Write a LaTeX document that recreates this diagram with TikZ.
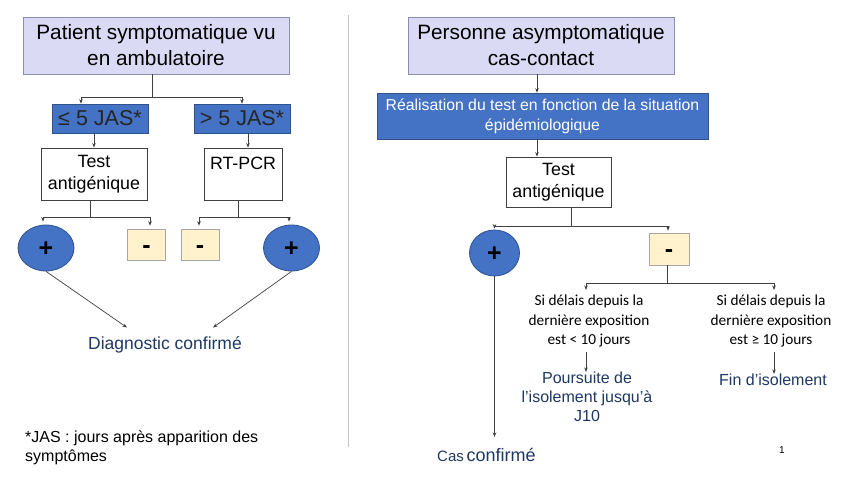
\documentclass[tikz,border=0pt]{standalone}
\usepackage{fontspec}
\setmainfont{Liberation Sans}
\newfontfamily\calib{Carlito}
\usetikzlibrary{arrows.meta,shapes.geometric}
\definecolor{lav}{HTML}{DADAF4}
\definecolor{lavb}{HTML}{8C8CB4}
\definecolor{blu}{HTML}{4472C4}
\definecolor{blub}{HTML}{2F528F}
\definecolor{crm}{HTML}{FFF2CC}
\definecolor{navy}{HTML}{1F3864}
\definecolor{ln}{HTML}{404040}
\tikzset{
 base/.style={rectangle, inner sep=0pt, align=center},
 titlebox/.style={base, draw=lavb, fill=lav, line width=0.8pt, minimum width=266pt, minimum height=57pt, font=\fontsize{20.8}{26}\selectfont},
 jasbox/.style={base, draw=blub, fill=blu, line width=0.6pt, minimum width=96pt, minimum height=29pt, font=\fontsize{21.5}{25}\selectfont, text=black!85},
 testbox/.style={base, draw=ln, fill=white, line width=0.8pt, minimum width=106pt, minimum height=52pt, font=\fontsize{17.8}{22}\selectfont},
 plus/.style={ellipse, draw=blub, fill=blu, line width=0.8pt, inner sep=0pt, minimum width=56pt, minimum height=46pt, text height=16pt, text depth=0pt, font=\bfseries\fontsize{25}{25}\selectfont},
 minus/.style={rectangle, draw=gray!70, fill=crm, line width=0.6pt, inner sep=0pt, minimum width=38pt, minimum height=31pt, text height=17pt, text depth=0pt, font=\bfseries\fontsize{25}{25}\selectfont},
 conn/.style={draw=ln, line width=0.7pt},
 arr/.style={conn, -{Stealth[length=4.5pt,width=3.5pt]}},
 navytext/.style={text=navy, inner sep=0pt, align=center},
 cal/.style={inner sep=0pt, align=center, font=\calib\fontsize{15.3}{19.5}\selectfont},
}
\begin{document}
\begin{tikzpicture}[x=1pt,y=-1pt]
\useasboundingbox (0,0) rectangle (850,478);
\fill[white] (0,0) rectangle (850,478);

% ---------- left part ----------
\node[titlebox] (t1) at (156,45.5) {Patient symptomatique vu\\en ambulatoire};
\node[jasbox] (j1) at (100,118.5) {≤ 5 JAS*};
\node[jasbox] (j2) at (242,118.5) {> 5 JAS*};
\node[testbox] (ta1) at (94,174) {Test\\antigénique};
\node[testbox, minimum width=78pt] (rt) at (243,174) {RT-PCR\\\mbox{}};
\node[plus] (p1) at (46,248) {+};
\node[minus] (m1) at (146.5,244.5) {-};
\node[minus] (m2) at (200,244.5) {-};
\node[plus] (p2) at (291.5,248) {+};
\node[navytext, font=\fontsize{17.5}{21}\selectfont] (dc) at (165,345) {Diagnostic confirmé};
\node[anchor=west, align=left, inner sep=0pt, font=\fontsize{16}{19}\selectfont] (fn) at (25,447.5) {*JAS : jours après apparition des\\symptômes};

\coordinate (b1) at (152,97);
\draw[conn] (t1.south -| b1) -- (b1);
\draw[arr] (b1) -| ([xshift=-19pt]j1.north);
\draw[arr] (b1) -| (j2.north);
\draw[arr] (j1.south -| ta1.north) -- (ta1.north);
\coordinate (a0) at ([xshift=6pt]j2.south);
\draw[arr] (a0) -- (a0 |- rt.north);

\coordinate (b2) at (90,217);
\draw[conn] (ta1.south -| b2) -- (b2);
\draw[arr, shorten >=3pt] (b2) -| ([xshift=-3pt]p1.north);
\draw[arr, shorten >=3pt] (b2) -| ([xshift=3.5pt]m1.north);
\coordinate (b3) at (238,217);
\draw[conn] (rt.south -| b3) -- (b3);
\draw[arr, shorten >=3pt] (b3) -| ([xshift=-1pt]m2.north);
\draw[arr, shorten >=3pt] (b3) -| ([xshift=-2.5pt]p2.north);

\draw[arr] (p1.south) -- ([xshift=-38pt,yshift=9pt]dc.north);
\draw[arr] (p2.south) -- ([xshift=48pt,yshift=9pt]dc.north);

% separator
\draw[gray!45, line width=0.8pt] (348,15) -- (348,447);

% ---------- right part ----------
\node[titlebox] (t2) at (541,45.5) {Personne asymptomatique\\cas-contact};
\node[base, draw=blub, fill=blu, line width=0.6pt, minimum width=331pt, minimum height=46pt, text=white, font=\fontsize{15.8}{20}\selectfont] (real) at (542.5,116) {Réalisation du test en fonction de la situation\\épidémiologique};
\node[testbox, minimum width=105pt, minimum height=50pt] (ta2) at (558.5,182) {Test\\antigénique};
\node[plus, minimum width=50pt, minimum height=46pt] (p3) at (494.5,253) {+};
\node[minus, minimum width=40pt, minimum height=32pt] (m3) at (669,249) {-};
\node[cal] (s1) at (589,321) {Si délais depuis la\\dernière exposition\\est < 10 jours};
\node[cal] (s2) at (771,321) {Si délais depuis la\\dernière exposition\\est ≥ 10 jours};
\node[navytext, font=\fontsize{16}{19}\selectfont] (pj) at (587,397) {Poursuite de\\l’isolement jusqu’à\\J10};
\node[navytext, font=\fontsize{16}{19}\selectfont] (fi) at (773,380) {Fin d’isolement};
\node[navytext, anchor=west] (cc) at (437,455) {{\fontsize{15}{18}\selectfont Cas} {\fontsize{18}{20}\selectfont confirmé}};
\node[inner sep=0pt, font=\fontsize{10}{12}\selectfont] (pg) at (782,450) {1};

\coordinate (a1) at ([xshift=-4pt]t2.south);
\draw[arr] (a1) -- (a1 |- real.north);
\draw[arr] (a1 |- real.south) -- (a1 |- ta2.north);
\coordinate (b4) at (571,226);
\draw[conn] (ta2.south -| b4) -- (b4);
\draw[arr, shorten >=1pt] (b4) -| (p3.north);
\draw[arr, shorten >=2pt] (b4) -| ([xshift=-1pt]m3.north);
\coordinate (b5) at (667,283);
\draw[conn] (m3.south -| b5) -- (b5);
\coordinate (s1in) at (586,290);
\coordinate (s2in) at (774,290);
\draw[arr] (b5) -| (s1in);
\draw[arr] (b5) -| (s2in);
\coordinate (s1out) at (586,352);
\coordinate (s2out) at (774,352);
\draw[arr] (s1out) -- (s1out |- pj.north);
\draw[arr] (s2out) -- (s2out |- fi.north);
\coordinate (ce) at (494.5,437);
\draw[arr] (p3.south) -- (ce);
\end{tikzpicture}
\end{document}
